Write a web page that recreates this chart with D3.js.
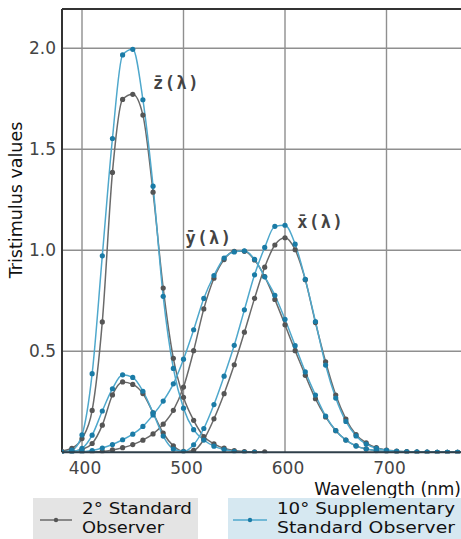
<!DOCTYPE html>
<html>
<head>
<meta charset="utf-8">
<script src="https://cdn.jsdelivr.net/npm/d3@7"></script>
<style>
  html, body { margin: 0; padding: 0; background: #fff; }
  svg { display: block; }
</style>
</head>
<body>
<svg id="chart" width="461" height="539"></svg>
<script>
// Wavelengths (nm), 10 nm steps
const wavelengths = [380,390,400,410,420,430,440,450,460,470,480,490,500,510,520,530,540,550,560,570,580,590,600,610,620,630,640,650,660,670,680,690,700,710,720,730,740,750,760,770,780];

// 2° Standard Observer
const x2 = [0.0014,0.0042,0.0143,0.0435,0.1344,0.2839,0.3483,0.3362,0.2908,0.1954,0.0956,0.0320,0.0049,0.0093,0.0633,0.1655,0.2904,0.4334,0.5945,0.7621,0.9163,1.0263,1.0622,1.0026,0.8544,0.6424,0.4479,0.2835,0.1649,0.0874,0.0468,0.0227,0.0114,0.0058,0.0029,0.0014,0.0007,0.0003,0.0002,0.0001,0.0000];
const y2 = [0.0000,0.0001,0.0004,0.0012,0.0040,0.0116,0.0230,0.0380,0.0600,0.0910,0.1390,0.2080,0.3230,0.5030,0.7100,0.8620,0.9540,0.9950,0.9950,0.9520,0.8700,0.7570,0.6310,0.5030,0.3810,0.2650,0.1750,0.1070,0.0610,0.0320,0.0170,0.0082,0.0041,0.0021,0.0010,0.0005,0.0002,0.0001,0.0001,0.0000,0.0000];
const z2 = [0.0065,0.0201,0.0679,0.2074,0.6456,1.3856,1.7471,1.7721,1.6692,1.2876,0.8130,0.4652,0.2720,0.1582,0.0783,0.0422,0.0203,0.0088,0.0039,0.0021,0.0017];

// 10° Supplementary Standard Observer
const x10 = [0.0002,0.0024,0.0191,0.0847,0.2045,0.3147,0.3837,0.3707,0.3023,0.1956,0.0805,0.0162,0.0038,0.0375,0.1177,0.2365,0.3768,0.5298,0.7052,0.8787,1.0142,1.1185,1.1240,1.0305,0.8563,0.6475,0.4316,0.2683,0.1526,0.0813,0.0409,0.0199,0.0096,0.0046,0.0022,0.0010,0.0005,0.0003,0.0001,0.0001,0.0000];
const y10 = [0.0000,0.0003,0.0020,0.0088,0.0214,0.0387,0.0621,0.0895,0.1282,0.1852,0.2536,0.3391,0.4608,0.6067,0.7618,0.8752,0.9620,0.9918,0.9973,0.9556,0.8689,0.7774,0.6583,0.5280,0.3981,0.2835,0.1798,0.1076,0.0603,0.0318,0.0159,0.0077,0.0037,0.0018,0.0008,0.0004,0.0002,0.0001,0.0001,0.0000,0.0000];
const z10 = [0.0007,0.0105,0.0860,0.3894,0.9725,1.5535,1.9673,1.9948,1.7454,1.3176,0.7721,0.4153,0.2185,0.1120,0.0607,0.0305,0.0137,0.0040,0.0000,0.0000];

const yTicks = [0.5, 1.0, 1.5, 2.0];
const xTicks = [400, 500, 600, 700];
const curveLabels = [
  {text: "z\u0304(\u03bb)", wl: 470, v: 1.80},
  {text: "y\u0304(\u03bb)", wl: 502, v: 1.03},
  {text: "x\u0304(\u03bb)", wl: 612, v: 1.11}
];

const svg = d3.select("#chart");
const L = 62, R = 461, T = 9, B = 452.3;
const x = d3.scaleLinear().domain([400, 700]).range([82, 386.5]);
const y = d3.scaleLinear().domain([0, 2]).range([452.3, 48.3]);

svg.append("defs").append("clipPath").attr("id", "clip")
  .append("rect").attr("x", L).attr("y", T).attr("width", R - L).attr("height", B - T + 1);

// gridlines
const grid = svg.append("g");
grid.selectAll("line.h").data(yTicks).join("line")
  .attr("x1", L).attr("x2", R).attr("y1", d => y(d)).attr("y2", d => y(d))
  .attr("stroke", "#8f8f8f").attr("stroke-width", 1.4);
grid.selectAll("line.v").data(xTicks).join("line")
  .attr("y1", T).attr("y2", B).attr("x1", d => x(d)).attr("x2", d => x(d))
  .attr("stroke", "#8f8f8f").attr("stroke-width", 1.4);

// frame
svg.append("line").attr("x1", L).attr("x2", L).attr("y1", T).attr("y2", B).attr("stroke", "#333").attr("stroke-width", 2);
svg.append("line").attr("x1", L).attr("x2", R).attr("y1", T).attr("y2", T).attr("stroke", "#333").attr("stroke-width", 2);

// tick labels
svg.selectAll("text.yt").data(yTicks).join("text")
  .attr("x", 56).attr("y", d => y(d) + 6).attr("text-anchor", "end")
  .attr("font-family", "DejaVu Sans").attr("font-size", 17).attr("fill", "#444")
  .text(d => d.toFixed(1));
svg.selectAll("text.xt").data(xTicks).join("text")
  .attr("x", d => x(d) + 3).attr("y", 474).attr("text-anchor", "middle")
  .attr("font-family", "DejaVu Sans").attr("font-size", 17).attr("fill", "#444")
  .text(d => d);

svg.append("text").attr("x", 461).attr("y", 495).attr("text-anchor", "end")
  .attr("font-family", "DejaVu Sans").attr("font-size", 17).attr("fill", "#111")
  .text("Wavelength (nm)");
svg.append("text").attr("transform", "translate(22,200) rotate(-90)").attr("text-anchor", "middle")
  .attr("font-family", "DejaVu Sans").attr("font-size", 17.5).attr("fill", "#111")
  .text("Tristimulus values");

// series
const plot = svg.append("g").attr("clip-path", "url(#clip)");
const series = [
  {vals: z2, color: "#6a6a6a", dot: "#555"},
  {vals: y2, color: "#6a6a6a", dot: "#555"},
  {vals: x2, color: "#6a6a6a", dot: "#555"},
  {vals: z10, color: "#4fa8cc", dot: "#1a7ba6"},
  {vals: y10, color: "#4fa8cc", dot: "#1a7ba6"},
  {vals: x10, color: "#4fa8cc", dot: "#1a7ba6"}
];
const line = d3.line().x(d => x(d[0])).y(d => y(d[1])).curve(d3.curveMonotoneX);
series.forEach(s => {
  const pts = s.vals.map((v, i) => [wavelengths[i], v]);
  plot.append("path").datum(pts).attr("d", line)
    .attr("fill", "none").attr("stroke", s.color).attr("stroke-width", 1.5);
});
series.forEach(s => {
  const pts = s.vals.map((v, i) => [wavelengths[i], v]);
  plot.selectAll(null).data(pts).join("circle")
    .attr("cx", d => x(d[0])).attr("cy", d => y(d[1])).attr("r", 2.6)
    .attr("fill", s.dot);
});

// bottom axis line
svg.append("line").attr("x1", L).attr("x2", R).attr("y1", B).attr("y2", B).attr("stroke", "#2f3f4a").attr("stroke-width", 2);

// curve labels
svg.selectAll("text.cl").data(curveLabels).join("text")
  .attr("x", d => x(d.wl)).attr("y", d => y(d.v))
  .attr("font-family", "DejaVu Sans Mono").attr("font-weight", "bold").attr("font-size", 17)
  .attr("letter-spacing", 1.5).attr("fill", "#444")
  .text(d => d.text);

// legend
const leg = svg.append("g");
leg.append("rect").attr("x", 33).attr("y", 498).attr("width", 165).attr("height", 41).attr("fill", "#e4e4e4");
leg.append("rect").attr("x", 228).attr("y", 498).attr("width", 233).attr("height", 41).attr("fill", "#d6e8f1");
leg.append("line").attr("x1", 40).attr("x2", 72).attr("y1", 520).attr("y2", 520).attr("stroke", "#6a6a6a").attr("stroke-width", 1.5);
leg.append("circle").attr("cx", 56).attr("cy", 520).attr("r", 2.2).attr("fill", "#555");
leg.append("line").attr("x1", 233).attr("x2", 267).attr("y1", 520).attr("y2", 520).attr("stroke", "#4fa8cc").attr("stroke-width", 1.5);
leg.append("circle").attr("cx", 250).attr("cy", 520).attr("r", 2.2).attr("fill", "#1a7ba6");
const lt = (xx, yy, t, len) => leg.append("text").attr("x", xx).attr("y", yy)
  .attr("font-family", "DejaVu Sans").attr("font-size", 16.5).attr("fill", "#111")
  .attr("textLength", len).attr("lengthAdjust", "spacingAndGlyphs").text(t);
lt(82, 514, "2° Standard", 110);
lt(82, 533, "Observer", 82);
lt(277, 514, "10° Supplementary", 178);
lt(277, 533, "Standard Observer", 178);
</script>
</body>
</html>
